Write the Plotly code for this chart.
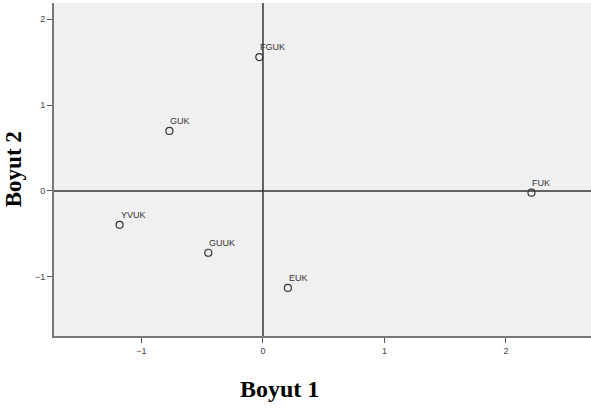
import plotly.graph_objects as go

labels = ["FGUK", "GUK", "YVUK", "GUUK", "EUK", "FUK"]
dim1 = [-0.03, -0.77, -1.18, -0.45, 0.205, 2.21]
dim2 = [1.56, 0.70, -0.395, -0.72, -1.13, -0.02]
x_ticks = [-1, 0, 1, 2]
y_ticks = [-1, 0, 1, 2]

fig = go.Figure()
fig.add_trace(go.Scatter(
    x=dim1, y=dim2, mode="markers",
    marker=dict(symbol="circle-open", size=7, color="#333333", line=dict(width=1.2)),
    hoverinfo="text", text=labels, showlegend=False,
))
for lab, xv, yv in zip(labels, dim1, dim2):
    fig.add_annotation(x=xv, y=yv, text=lab, showarrow=False,
                       xanchor="left", yanchor="bottom", xshift=-1, yshift=3,
                       font=dict(family="Liberation Sans, Arial", size=9, color="#333333"))

fig.add_shape(type="line", xref="x", yref="paper", x0=0, x1=0, y0=0, y1=1,
              line=dict(color="#333333", width=1.5))
fig.add_shape(type="line", xref="paper", yref="y", x0=0, x1=1, y0=0, y1=0,
              line=dict(color="#333333", width=1.5))

# axis titles
fig.add_annotation(xref="paper", yref="paper", x=0.42, y=-0.115, yanchor="top",
                   text="<b>Boyut 1</b>", showarrow=False,
                   font=dict(family="Liberation Serif, serif", size=24, color="black"))
fig.add_annotation(xref="paper", yref="paper", x=-0.075, y=0.5, xanchor="center",
                   text="<b>Boyut 2</b>", showarrow=False, textangle=-90,
                   font=dict(family="Liberation Serif, serif", size=23, color="black"))

tickfont = dict(family="Liberation Sans, Arial", size=9, color="#444444")
fig.update_xaxes(range=[-1.72, 2.70], tickvals=x_ticks, ticks="outside", ticklen=5,
                 tickcolor="#555555", showgrid=False, zeroline=False,
                 showline=True, linecolor="#777777", linewidth=2, mirror=False,
                 tickfont=tickfont, automargin=False)
fig.update_yaxes(range=[-1.69, 2.19], tickvals=y_ticks, ticks="outside", ticklen=5,
                 tickcolor="#555555", showgrid=False, zeroline=False,
                 showline=True, linecolor="#777777", linewidth=2, mirror=True,
                 tickfont=tickfont, automargin=False)
fig.update_layout(
    width=591, height=410,
    margin=dict(l=54, r=0, t=3, b=74, autoexpand=False),
    plot_bgcolor="#f0f0f0", paper_bgcolor="white",
)
fig.write_html("out.html", config={"displayModeBar": False},
               post_script="document.body.style.margin='0px';document.body.style.overflow='hidden';")
